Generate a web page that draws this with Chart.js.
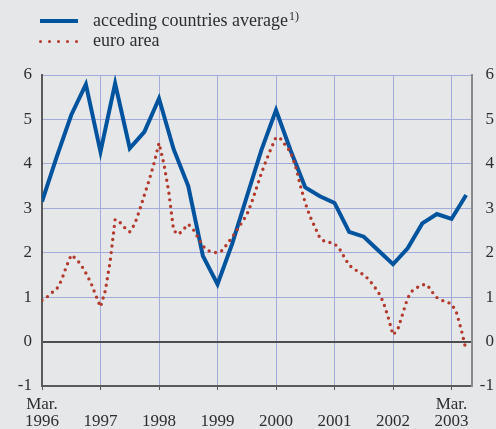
<!DOCTYPE html>
<html>
<head>
<meta charset="utf-8">
<script src="https://cdn.jsdelivr.net/npm/chart.js@4.4.0/dist/chart.umd.min.js"></script>
<style>
  html, body { margin: 0; padding: 0; background: #e6e7e9; }
  #wrap { position: relative; width: 496px; height: 429px; overflow: hidden; background: #e6e7e9; }
  #c { position: absolute; left: 0; top: 0; }
  .lg { position: absolute; font-family: 'Liberation Serif', 'Times New Roman', serif; font-size: 18px; line-height: 18px; color: #2e2e2e; white-space: nowrap; }
  .lg sup { font-size: 12px; vertical-align: 6px; line-height: 0; margin-left: 1px; }
  .bl { position: absolute; left: 40px; top: 19px; width: 38px; height: 4px; background: #00549e; }
  .dot { position: absolute; width: 3.4px; height: 3.4px; border-radius: 50%; background: #b23a2c; top: 40px; }
</style>
</head>
<body>
<div id="wrap">
  <canvas id="c" width="496" height="429"></canvas>
  <div class="bl"></div>
  <div class="lg" style="left:93px; top:11px;">acceding countries average<sup>1)</sup></div>
  <div class="dot" style="left:39px"></div>
  <div class="dot" style="left:48px"></div>
  <div class="dot" style="left:57px"></div>
  <div class="dot" style="left:66px"></div>
  <div class="dot" style="left:75px"></div>
  <div class="lg" style="left:93px; top:31px;">euro area</div>
</div>
<script>
// Series names
const seriesNames = ["acceding countries average", "euro area"];

// Acceding countries average: quarterly, Q1 1996 .. Q2 2003
const accedingQuarterly = [
  3.15, 4.15, 5.10, 5.79, 4.27, 5.81, 4.35, 4.72,
  5.47, 4.33, 3.50, 1.93, 1.29, 2.20, 3.26, 4.31,
  5.21, 4.30, 3.47, 3.27, 3.12, 2.47, 2.36, 2.05,
  1.74, 2.10, 2.66, 2.87, 2.76, 3.30
];

// Euro area: monthly, Mar 1996 .. Jun 2003
const euroMonthly = [
  0.93, 1.00, 1.10, 1.18, 1.38, 1.69, 1.95, 1.86, 1.73, 1.54, 1.33, 1.05,
  0.78, 1.15, 1.82, 2.75, 2.68, 2.56, 2.47, 2.64, 2.95, 3.30, 3.64, 4.02,
  4.47, 4.00, 3.37, 2.50, 2.41, 2.52, 2.64, 2.53, 2.34, 2.15, 2.05, 2.01,
  2.00, 2.05, 2.20, 2.35, 2.51, 2.68, 2.85, 3.13, 3.46, 3.79, 4.08, 4.35,
  4.60, 4.56, 4.41, 4.26, 3.95, 3.51, 3.12, 2.81, 2.57, 2.33, 2.25, 2.23,
  2.20, 2.09, 1.90, 1.72, 1.63, 1.57, 1.50, 1.40, 1.26, 1.11, 0.89, 0.55,
  0.15, 0.28, 0.63, 0.98, 1.15, 1.22, 1.28, 1.28, 1.12, 0.99, 0.93, 0.89,
  0.85, 0.66, 0.27, -0.20
];

// X tick labels (one per year, at March)
const xTickLabels = [
  ["Mar.", "1996"], ["", "1997"], ["", "1998"], ["", "1999"],
  ["", "2000"], ["", "2001"], ["", "2002"], ["Mar.", "2003"]
];
const yMin = -1, yMax = 6;

const euroPoints = euroMonthly.map((v, i) => ({ x: i, y: v }));
const accPoints = accedingQuarterly.map((v, i) => ({ x: i * 3, y: v }));
const xTickValues = xTickLabels.map((_, i) => i * 12);

const FONT = "'Liberation Serif', 'Times New Roman', serif";
const GRID = '#a3acd8';
const AXIS = '#5a5a5a';
const TXT = '#2e2e2e';

new Chart(document.getElementById('c'), {
  type: 'line',
  data: {
    datasets: [
      {
        label: seriesNames[1],
        data: euroPoints,
        borderColor: '#b23a2c',
        borderWidth: 3.4,
        borderDash: [0, 6.6],
        borderCapStyle: 'round',
        pointRadius: 0,
        tension: 0,
        fill: false
      },
      {
        label: seriesNames[0],
        data: accPoints,
        borderColor: '#00549e',
        borderWidth: 4,
        borderJoinStyle: 'miter',
        pointRadius: 0,
        tension: 0,
        fill: false
      }
    ]
  },
  options: {
    responsive: false,
    animation: false,
    devicePixelRatio: 1,
    layout: { padding: { top: 75, left: 0, right: 2, bottom: 0 } },
    plugins: { legend: { display: false }, tooltip: { enabled: false } },
    scales: {
      x: {
        type: 'linear',
        min: 0,
        max: 88.2,
        afterFit: s => { s.height = 43; },
        afterBuildTicks: s => { s.ticks = xTickValues.map(v => ({ value: v })); },
        grid: { color: GRID, lineWidth: 1, tickColor: AXIS, tickLength: 4, drawTicks: true },
        border: { display: true, color: AXIS, width: 2 },
        ticks: {
          autoSkip: false, maxRotation: 0, minRotation: 0, padding: 6,
          color: TXT, font: { family: FONT, size: 17, lineHeight: 1.0 },
          callback: (v, i) => xTickLabels[i]
        }
      },
      y: {
        position: 'left',
        min: yMin, max: yMax,
        afterFit: s => { s.width = 42; },
        grid: {
          drawTicks: false,
          color: c => (c.tick && c.tick.value === 0) ? '#4d4d4d' : GRID,
          lineWidth: c => (c.tick && c.tick.value === 0) ? 2 : 1
        },
        border: { display: true, color: AXIS, width: 2 },
        ticks: { stepSize: 1, padding: 10, color: TXT, font: { family: FONT, size: 17 } }
      },
      y2: {
        position: 'right',
        min: yMin, max: yMax,
        afterFit: s => { s.width = 22; },
        grid: { drawOnChartArea: false, drawTicks: false },
        border: { display: true, color: '#8a8a8a', width: 2 },
        ticks: { stepSize: 1, crossAlign: 'far', padding: 4, color: TXT, font: { family: FONT, size: 17 } }
      }
    }
  }
});
</script>
</body>
</html>
